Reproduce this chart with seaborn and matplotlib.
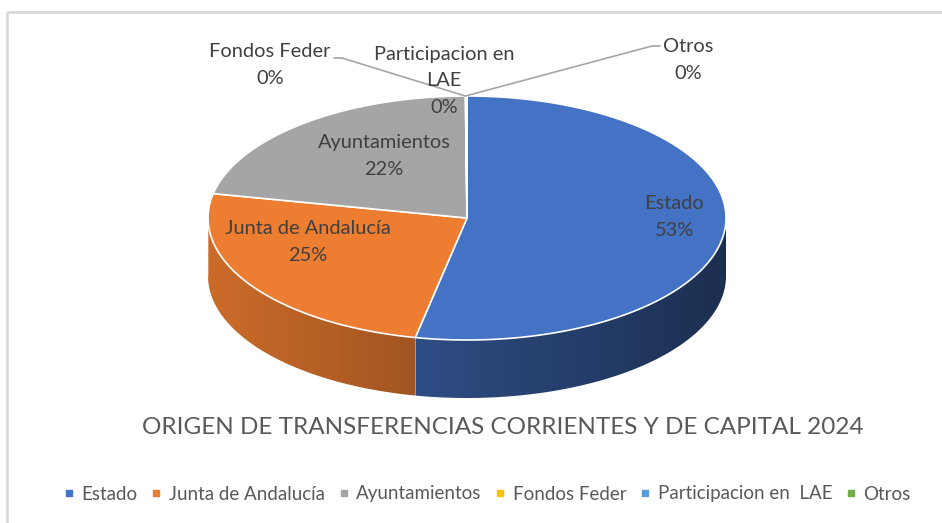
import numpy as np
import matplotlib.pyplot as plt
from matplotlib.patches import Polygon, Rectangle
from matplotlib.lines import Line2D
import seaborn as sns

# data (three tiny slices show as 0%)
categories = ['Estado', 'Junta de Andalucía', 'Ayuntamientos', 'Fondos Feder',
              'Participacion en  LAE', 'Otros']
label_texts = ['Estado', 'Junta de Andalucía', 'Ayuntamientos', 'Fondos Feder',
               'Participacion en\nLAE', 'Otros']
values = [53.2, 25.0, 21.7, 0.04, 0.03, 0.03]
hex_colors = ['#4472C4', '#ED7D31', '#A5A5A5', '#FFC000', '#5B9BD5', '#70AD47']
title = 'ORIGEN DE TRANSFERENCIAS CORRIENTES Y DE CAPITAL 2024'

sns.set_style("white")
plt.rcParams['font.family'] = ['Lato', 'DejaVu Sans']
palette = sns.color_palette(hex_colors)

W, H = 942, 523
fig = plt.figure(figsize=(W / 100, H / 100), dpi=100)
ax = fig.add_axes([0, 0, 1, 1])
ax.axis('off')

# chart area border (only top/left visible in the crop)
ax.add_patch(Rectangle((7, 12), W + 20, H + 20, fill=False,
                       edgecolor='#D9D9D9', linewidth=2))

cx, cy, rx, ry, depth = 467, 218, 259, 122, 58


def pt(deg, dy=0):
    t = np.radians(deg)
    return cx + rx * np.cos(t), cy - ry * np.sin(t) + dy


fracs = np.array(values) / sum(values)
ends = 90 - 360 * np.cumsum(fracs)
starts = np.concatenate([[90], ends[:-1]])

# side walls (front half: math angles 180..360), shaded darker to the right
xs = np.linspace(cx - rx, cx + rx, 400)
shade = 0.86 - 0.45 * (xs - xs[0]) / (xs[-1] - xs[0])
for s, e, col in zip(starts, ends, palette):
    lo, hi = min(s, e), max(s, e)
    for off in (0, 360, -360):
        a0, a1 = max(lo + off, 180), min(hi + off, 360)
        if a1 <= a0:
            continue
        angs = np.linspace(a0, a1, 200)
        top_edge = [pt(a) for a in angs]
        bot_edge = [pt(a, depth) for a in angs[::-1]]
        poly = Polygon(top_edge + bot_edge, closed=True, facecolor='none',
                       edgecolor='none')
        ax.add_patch(poly)
        grad = np.clip(np.array(col)[None, None, :] * shade[None, :, None], 0, 1)
        im = ax.imshow(grad, extent=(xs[0], xs[-1], cy + ry + depth + 2, cy - 2),
                       aspect='auto', interpolation='bilinear')
        im.set_clip_path(poly)
        ax.plot(*zip(pt(a0), pt(a0, depth)), color='white', lw=0.6, alpha=0.35)

# top faces
for s, e, col in zip(starts, ends, palette):
    angs = np.linspace(s, e, max(int(abs(s - e) * 2), 3))
    pts = [(cx, cy)] + [pt(a) for a in angs]
    ax.add_patch(Polygon(pts, closed=True, facecolor=col,
                         edgecolor='white', linewidth=1.2, joinstyle='round'))

txt_col = '#404040'
fs = 14.4
pcts = [f'{round(v)}%' for v in values]

# labels inside the large slices
inside = {0: (674, 217), 1: (308, 242), 2: (384, 156)}
for i, (x, y) in inside.items():
    ax.text(x, y, f'{label_texts[i]}\n{pcts[i]}', ha='center', va='center',
            fontsize=fs, color=txt_col, linespacing=1.65)

# small slices, with leader lines
outside = {3: (270, 65), 4: (444, 81), 5: (688, 60)}
for i, (x, y) in outside.items():
    ax.text(x, y, f'{label_texts[i]}\n{pcts[i]}', ha='center', va='center',
            fontsize=fs, color=txt_col, linespacing=1.65)
top = pt(90 - 360 * (fracs[:3].sum()))
ax.plot([334, 342, top[0]], [58, 58, top[1]], color='#A6A6A6', lw=1.2)
ax.plot([660, 652, top[0]], [46, 46, top[1]], color='#A6A6A6', lw=1.2)

ax.text(503, 427, title, ha='center', va='center', fontsize=17.5,
        color='#595959')

handles = [Line2D([0], [0], marker='s', linestyle='none', markersize=5,
                  markerfacecolor=c, markeredgecolor=c) for c in palette]
ax.legend(handles, categories, loc='center', bbox_to_anchor=(487 / W, 1 - 494 / H),
          bbox_transform=fig.transFigure, ncol=6, frameon=False,
          fontsize=13.5, handlelength=0.6, handletextpad=0.35, columnspacing=0.72,
          labelcolor='#595959')

ax.set_xlim(0, W)
ax.set_ylim(H, 0)
fig.savefig('out.png', dpi=100)
plt.close(fig)
